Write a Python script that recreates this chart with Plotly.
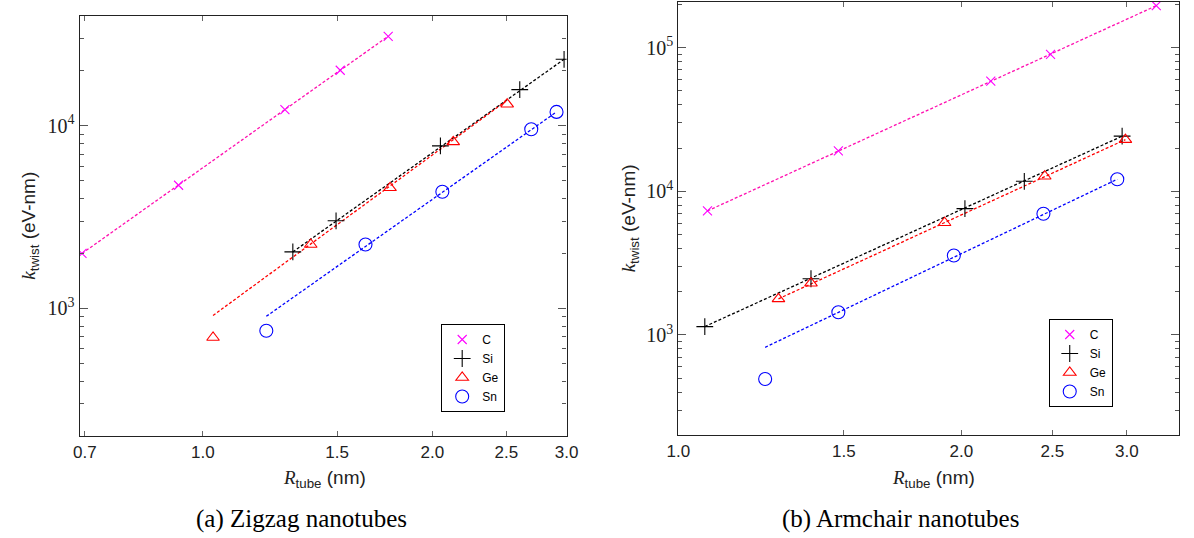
import numpy as np
import plotly.graph_objects as go

# ---------------- data: zigzag nanotubes (panel a) ----------------
zz_C_R = [0.694, 0.929, 1.281, 1.514, 1.750]
zz_C_k = [2000, 4730, 12290, 20180, 30970]
zz_Si_R = [1.312, 1.495, 2.049, 2.604, 2.977]
zz_Si_k = [2040, 3020, 7775, 15810, 23170]
zz_Ge_R = [1.031, 1.385, 1.760, 2.130, 2.507]
zz_Ge_k = [693, 2240, 4580, 8170, 13150]
zz_Sn_R = [1.211, 1.634, 2.061, 2.696, 2.910]
zz_Sn_k = [755, 2240, 4360, 9590, 11930]
# power-law fit lines (end points)
zz_C_fitR = [0.694, 1.750];  zz_C_fitk = [2000, 30970]
zz_Si_fitR = [1.312, 2.977]; zz_Si_fitk = [2040, 23170]
zz_Ge_fitR = [1.031, 2.500]; zz_Ge_fitk = [915, 13700]
zz_Sn_fitR = [1.211, 2.910]; zz_Sn_fitk = [905, 11930]

# ---------------- data: armchair nanotubes (panel b) ----------------
ac_C_R = [1.074, 1.480, 2.150, 2.489, 3.225]
ac_C_k = [7300, 19100, 58500, 89800, 196000]
ac_Si_R = [1.067, 1.384, 2.018, 2.334, 2.966]
ac_Si_k = [1143, 2460, 7570, 11740, 24200]
ac_Ge_R = [1.278, 1.384, 1.920, 2.454, 2.990]
ac_Ge_k = [1783, 2291, 6040, 12730, 22900]
ac_Sn_R = [1.237, 1.480, 1.964, 2.446, 2.931]
ac_Sn_k = [493, 1439, 3575, 6980, 12130]
ac_C_fitR = [1.074, 3.225];  ac_C_fitk = [7300, 196000]
ac_Si_fitR = [1.067, 2.966]; ac_Si_fitk = [1143, 24200]
ac_Ge_fitR = [1.278, 2.990]; ac_Ge_fitk = [1783, 22900]
ac_Sn_fitR = [1.237, 2.931]; ac_Sn_fitk = [820, 12130]

series_names = ["C", "Si", "Ge", "Sn"]

# tick labels
zz_xticks = [0.7, 1.0, 1.5, 2.0, 2.5, 3.0]
ac_xticks = [1.0, 1.5, 2.0, 2.5, 3.0]
zz_yticks = [1e3, 1e4]
ac_yticks = [1e3, 1e4, 1e5]

# ---------------- styles ----------------
mk_color = {"C": "#ff00ff", "Si": "black", "Ge": "red", "Sn": "blue"}
ln_color = {"C": "#ff10b0", "Si": "black", "Ge": "red", "Sn": "blue"}
mk_symbol = {"C": "x-thin-open", "Si": "cross-thin-open",
             "Ge": "triangle-up-open", "Sn": "circle-open"}
mk_size = {"C": 9, "Si": 12, "Ge": 11, "Sn": 13}

W, H = 1194, 538
fig = go.Figure()

panels = [
    ("x", "y", "legend",
     {"C": (zz_C_R, zz_C_k, zz_C_fitR, zz_C_fitk),
      "Si": (zz_Si_R, zz_Si_k, zz_Si_fitR, zz_Si_fitk),
      "Ge": (zz_Ge_R, zz_Ge_k, zz_Ge_fitR, zz_Ge_fitk),
      "Sn": (zz_Sn_R, zz_Sn_k, zz_Sn_fitR, zz_Sn_fitk)}),
    ("x2", "y2", "legend2",
     {"C": (ac_C_R, ac_C_k, ac_C_fitR, ac_C_fitk),
      "Si": (ac_Si_R, ac_Si_k, ac_Si_fitR, ac_Si_fitk),
      "Ge": (ac_Ge_R, ac_Ge_k, ac_Ge_fitR, ac_Ge_fitk),
      "Sn": (ac_Sn_R, ac_Sn_k, ac_Sn_fitR, ac_Sn_fitk)}),
]

for xa, ya, leg, data in panels:
    for name in series_names:
        R, k, fR, fk = data[name]
        fig.add_trace(go.Scatter(
            x=fR, y=fk, mode="lines", xaxis=xa, yaxis=ya, showlegend=False,
            line=dict(color=ln_color[name], width=1.3, dash="3px,2px"),
            hoverinfo="skip"))
    for name in series_names:
        R, k, fR, fk = data[name]
        fig.add_trace(go.Scatter(
            x=R, y=k, mode="markers", name=name, xaxis=xa, yaxis=ya,
            legend=leg,
            marker=dict(symbol=mk_symbol[name], size=mk_size[name],
                        color=mk_color[name],
                        line=dict(color=mk_color[name], width=1.1))))


def minor_vals(lo_exp, hi_exp):
    vals = []
    for e in range(lo_exp, hi_exp + 1):
        for m in range(2, 10):
            vals.append(m * 10 ** e)
    return vals


sans = "Liberation Sans"
serif = "Liberation Serif"

common_x = dict(type="log", showgrid=False, zeroline=False, showline=True,
                linecolor="#222", linewidth=1.3, mirror="ticks",
                ticks="inside", ticklen=5, tickwidth=1, tickcolor="#666",
                tickfont=dict(family=sans, size=17, color="#222"))
common_y = dict(type="log", showgrid=False, zeroline=False, showline=True,
                linecolor="#222", linewidth=1.3, mirror="ticks",
                ticks="inside", ticklen=8, tickwidth=1, tickcolor="#555",
                tickfont=dict(family=serif, size=20, color="#222"))
minor_style = dict(ticks="inside", ticklen=4, tickwidth=1, tickcolor="#555")

fig.update_layout(
    width=W, height=H, margin=dict(l=0, r=0, t=0, b=0),
    plot_bgcolor="white", paper_bgcolor="white",
    xaxis=dict(common_x, domain=[69 / W, 566 / W],
               range=[np.log10(0.689), np.log10(3.0)],
               tickvals=zz_xticks, ticktext=[f"{v:.1f}" for v in zz_xticks],
               anchor="y"),
    yaxis=dict(common_y, domain=[1 - 436 / H, 1 - 16 / H],
               range=[np.log10(200), np.log10(40000)],
               tickvals=zz_yticks, ticktext=["10<sup>3</sup>", "10<sup>4</sup>"],
               minor=dict(minor_style, tickvals=minor_vals(2, 4)),
               anchor="x"),
    xaxis2=dict(common_x, domain=[680 / W, 1191 / W],
                range=[0.0, np.log10(3.41)],
                tickvals=ac_xticks, ticktext=[f"{v:.1f}" for v in ac_xticks],
                anchor="y2"),
    yaxis2=dict(common_y, domain=[1 - 435 / H, 1 - 2 / H],
                range=[np.log10(201), 5.318],
                tickvals=ac_yticks,
                ticktext=["10<sup>3</sup>", "10<sup>4</sup>", "10<sup>5</sup>"],
                minor=dict(minor_style, tickvals=minor_vals(2, 5)),
                anchor="x2"),
    legend=dict(x=438 / W, y=1 - 324 / H, xanchor="left", yanchor="top",
                bordercolor="black", borderwidth=1, bgcolor="white",
                font=dict(family=sans, size=12, color="black"),
                itemwidth=30, tracegroupgap=0),
    legend2=dict(x=1058 / W, y=1 - 319 / H, xanchor="left", yanchor="top",
                 bordercolor="black", borderwidth=1, bgcolor="white",
                 font=dict(family=sans, size=12, color="black"),
                 itemwidth=30, tracegroupgap=0),
)

ylab = ('<span style="font-family:Liberation Serif"><i>k</i></span>'
        '<sub>twist</sub> (eV-nm)')
xlab = ('<span style="font-family:Liberation Serif"><i>R</i></span>'
        '<sub>tube</sub> (nm)')

annots = [
    dict(x=18 / W, y=1 - 226 / H, text=ylab, textangle=-90),
    dict(x=631 / W, y=1 - 218 / H, text=ylab, textangle=-90),
    dict(x=319 / W, y=1 - 479 / H, text=xlab),
    dict(x=940 / W, y=1 - 479 / H, text=xlab),
    dict(x=295 / W, y=1 - 519 / H, text="(a) Zigzag nanotubes",
         font=dict(family=serif, size=25, color="black")),
    dict(x=907 / W, y=1 - 519 / H, text="(b) Armchair nanotubes",
         font=dict(family=serif, size=25, color="black")),
]
for a in annots:
    a.setdefault("font", dict(family=sans, size=19, color="#222"))
    fig.add_annotation(xref="paper", yref="paper", showarrow=False,
                       xanchor="center", yanchor="middle", **a)

fig.write_html("out.html",
               config={"displayModeBar": False},
               post_script="document.body.style.margin='0px';"
                           "document.body.style.overflow='hidden';")
